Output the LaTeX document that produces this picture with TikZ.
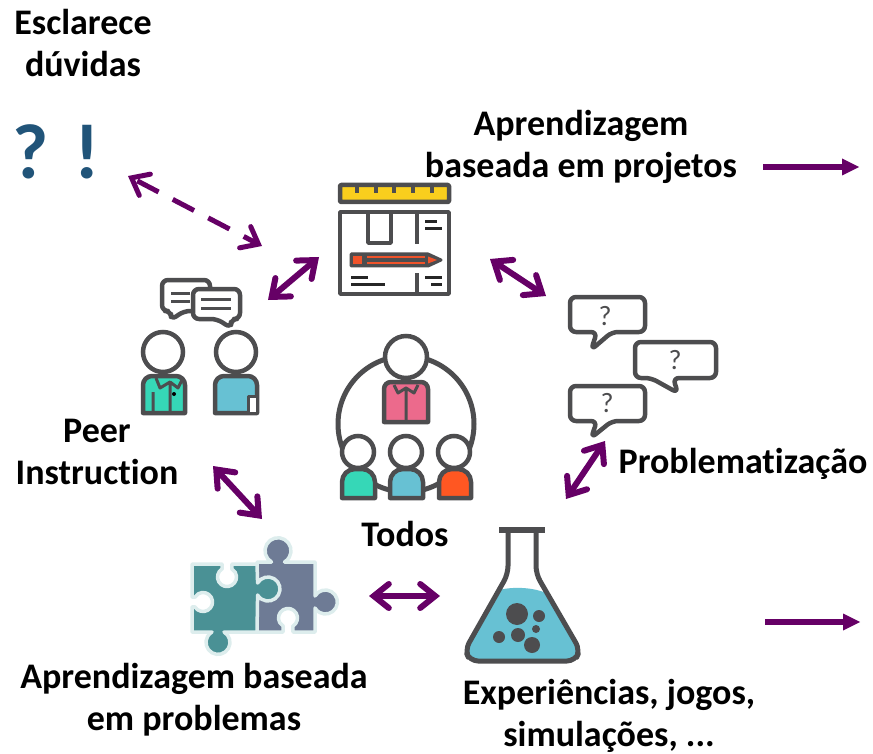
\documentclass[tikz,border=0pt]{standalone}
\usepackage{fontspec}
\setmainfont[Ligatures=NoCommon]{Carlito}
\usepackage{xcolor}
\usetikzlibrary{arrows.meta}
\definecolor{inkgray}{HTML}{4D4D4F}
\definecolor{arrowpurple}{HTML}{660066}
\definecolor{markblue}{HTML}{215479}
\definecolor{rulerY}{HTML}{F9CE1D}
\definecolor{penO}{HTML}{F0532A}
\definecolor{shirtG}{HTML}{36D7B7}
\definecolor{shirtB}{HTML}{67C1D3}
\definecolor{shirtP}{HTML}{EC6A8C}
\definecolor{shirtO}{HTML}{FF5722}
\definecolor{puzzleT}{HTML}{4A9195}
\definecolor{puzzleS}{HTML}{6E7B95}
\definecolor{puzzleH}{HTML}{DDEDED}
\tikzset{
    caption/.style={font=\fontsize{36}{42}\selectfont\bfseries, align=center, inner sep=0pt, text=black},
    link/.style={draw=arrowpurple, line width=6pt, -{Triangle[length=17pt, width=17pt, line width=0pt]}},
    twoway/.style={draw=arrowpurple, line width=6pt, {Straight Barb[length=15pt, width=24pt, line cap=round]}-{Straight Barb[length=15pt, width=24pt, line cap=round]}},
    ink/.style={draw=inkgray, line width=4.5pt, line join=round},
    head/.style={circle, draw=inkgray, line width=4.5pt, fill=white, inner sep=0pt},
    bubble/.style={ink, fill=white, rounded corners=6pt},
    qmark/.style={font=\fontsize{28}{28}\selectfont, text=inkgray, inner sep=0pt},
    piece/.style={draw=puzzleH, line width=3.5pt, line join=round}
}
\begin{document}
\begin{tikzpicture}[x=1pt, y=-1pt]
    \useasboundingbox (0, 0) rectangle (873, 754);
    % captions
    \node[caption] (doubts) at (83, 43) {Esclarece\\dúvidas};
    \node[caption] (projects) at (581, 146.5) {Aprendizagem\\baseada em projetos};
    \node[caption] (peer) at (97, 452) {Peer\\Instruction};
    \node[caption] (everyone) at (405, 534) {Todos};
    \node[caption] (problemat) at (743, 464) {Problematização};
    \node[caption] (problems) at (194, 700) {Aprendizagem baseada\\em problemas};
    \node[caption] (games) at (609, 716) {Experiências, jogos,\\simulações, ...};
    \node[font=\fontsize{78}{78}\selectfont\bfseries, text=markblue, inner sep=0pt] (marks) at (56, 152) {?\,\,!};

    % ruler and plan
    \draw[ink, fill=rulerY, rounded corners=1pt] (340, 185) rectangle (449, 202);
    \foreach \x in {357, 376, 394, 413, 432}
        \draw[ink, line width=3.5pt] (\x, 185) -- (\x, 193);
    \draw[ink, line width=3.5pt, fill=white] (340, 212) rectangle (449, 294);
    \draw[ink, line width=3.5pt] (368, 212) -- (368, 243) -- (391, 243) -- (391, 212);
    \draw[ink, line width=3.5pt] (417, 212) -- (417, 244);
    \draw[ink, line width=3.5pt] (417, 273) -- (417, 294);
    \draw[black!85, line width=3pt]
        (425, 222) -- (437, 222)
        (425, 229) -- (442, 229)
        (351, 277) -- (368, 277)
        (351, 284) -- (385, 284)
        (425, 277) -- (442, 277)
        (431, 284) -- (442, 284);
    \draw[ink, line width=3pt, fill=inkgray] (351, 254) -- (428, 254) -- (441, 260) -- (428, 266) -- (351, 266) -- cycle;
    \fill[penO] (353, 256) rectangle (362, 264);
    \fill[penO] (428, 256.5) -- (437, 260) -- (428, 263.5) -- cycle;
    \draw[penO, line width=2pt] (367, 257) -- (425, 257) (367, 263) -- (425, 263);

    % two people talking
    \draw[bubble] (162, 280) -- (210, 280) -- (210, 311) -- (184, 311) -- (171, 320) -- (171, 311) -- (162, 311) -- cycle;
    \draw[inkgray, line width=3pt] (171, 293) -- (190, 293) (171, 301) -- (190, 301);
    \draw[bubble] (193, 289) -- (240, 289) -- (240, 319) -- (231, 319) -- (231, 328) -- (217, 319) -- (193, 319) -- cycle;
    \draw[inkgray, line width=3pt] (201, 299) -- (231, 299) (201, 308) -- (231, 308);
    \draw[ink, fill=shirtG] (143, 413) [rounded corners=9pt] -- (143, 376) -- (185, 376) [sharp corners] -- (185, 413) -- cycle;
    \draw[ink, line width=3pt] (153, 413) -- (153, 392) (170, 413) -- (170, 384) (156, 378) -- (160, 388) -- (170, 382) -- (178, 388) -- (183, 378);
    \fill[black] (174, 394) circle (2pt);
    \draw[ink, fill=shirtB] (215, 413) [rounded corners=9pt] -- (215, 376) -- (257, 376) [sharp corners] -- (257, 413) -- cycle;
    \draw[ink, fill=white, line width=3pt] (248, 413) -- (248, 396) -- (257, 396) -- (257, 413) -- cycle;
    \node[head, minimum size=40pt] (headL) at (163, 352) {};
    \node[head, minimum size=40pt] (headR) at (236, 352) {};

    % group
    \draw[ink, line width=5pt] (406, 424) circle (68);
    \draw[ink, fill=shirtP] (384, 422) [rounded corners=7pt] -- (384, 382) -- (428, 382) [sharp corners] -- (428, 422) -- cycle;
    \draw[ink, line width=3pt] (406, 422) -- (406, 389) (394, 385) -- (398, 393) -- (406, 388) -- (414, 393) -- (418, 385);
    \node[head, minimum size=42pt] (headT) at (406, 357) {};
    \draw[ink, fill=shirtG] (342, 498) [rounded corners=13pt] -- (342, 469) -- (375, 469) [sharp corners] -- (375, 498) -- cycle;
    \draw[ink, fill=shirtB] (390, 498) [rounded corners=13pt] -- (390, 469) -- (423, 469) [sharp corners] -- (423, 498) -- cycle;
    \draw[ink, fill=shirtO] (439, 498) [rounded corners=13pt] -- (439, 469) -- (471, 469) [sharp corners] -- (471, 498) -- cycle;
    \node[head, minimum size=32pt] (headA) at (358, 452) {};
    \node[head, minimum size=32pt] (headB) at (406, 452) {};
    \node[head, minimum size=32pt] (headC) at (454, 452) {};

    % question bubbles
    \draw[bubble] (570, 297) -- (645, 297) -- (645, 332) -- (612, 332) -- (591, 350) -- (597, 332) -- (570, 332) -- cycle;
    \draw[bubble] (635, 342) -- (716, 342) -- (716, 378) -- (673, 378) -- (678, 393) -- (651, 378) -- (635, 378) -- cycle;
    \draw[bubble] (570, 386) -- (645, 386) -- (645, 421) -- (612, 421) -- (591, 438) -- (597, 421) -- (570, 421) -- cycle;
    \node[qmark] (askA) at (605, 316) {?};
    \node[qmark] (askB) at (675, 360) {?};
    \node[qmark] (askC) at (607, 403) {?};

    % puzzle
    \draw[piece, fill=puzzleS] (257, 562) -- (271.5, 562) arc[start angle=120, end angle=420, radius=13] -- (284.5, 562) -- (315, 562) -- (315, 596)
        arc[start angle=-150, end angle=150, radius=12] -- (315, 632) -- (293, 632) -- (292.75, 626.2)
        arc[start angle=60, end angle=-240, radius=9.5] -- (283, 632) -- (257, 632) -- cycle;
    \draw[piece, fill=puzzleT] (192, 564) -- (222, 564) -- (222.25, 568.8)
        arc[start angle=-120, end angle=-420, radius=9.5] -- (232, 564) -- (257, 564) -- (257.6, 583)
        arc[start angle=-150, end angle=150, radius=12] -- (257, 632) -- (224, 632)
        arc[start angle=-60, end angle=240, radius=12] -- (192, 632) -- (192, 607) -- (194.8, 606.75)
        arc[start angle=150, end angle=-150, radius=9.5] -- (192, 597) -- cycle;

    % flask
    \fill[shirtB] (499, 590) .. controls (515, 586) and (535, 588) .. (546, 593) -- (578, 650) -- (574, 660) -- (471, 660) -- (467, 650) -- cycle;
    \draw[ink, line width=5pt, rounded corners=8pt] (508, 530) -- (508, 574) -- (465, 650) -- (470, 661) -- (575, 661) -- (580, 650) -- (536, 574) -- (536, 530);
    \draw[ink, line width=6pt] (499, 530) -- (545, 530);
    \fill[inkgray] (517, 614) circle (11) (539, 616) circle (6) (536, 629) circle (4) (518, 635) circle (7) (499, 637) circle (6) (532, 645) circle (8);

    % arrow ends
    \coordinate (marksEnd) at (128, 176);
    \coordinate (planNW) at (262, 246);
    \coordinate (planW) at (319, 257);
    \coordinate (peerN) at (268, 300);
    \coordinate (planE) at (490, 259);
    \coordinate (askN) at (546, 296);
    \coordinate (askS) at (605, 441);
    \coordinate (flaskN) at (566, 499);
    \coordinate (peerS) at (213, 466);
    \coordinate (puzzleN) at (262, 519);
    \coordinate (puzzleE) at (369, 596);
    \coordinate (flaskW) at (440, 596);
    \coordinate (projectsA) at (763, 167);
    \coordinate (projectsB) at (859, 167);
    \coordinate (gamesA) at (765, 622);
    \coordinate (gamesB) at (860, 622);
    \draw
        (marksEnd) edge[twoway, line width=5pt, dash pattern=on 24pt off 16pt, dash phase=36pt] (planNW)
        (planW) edge[twoway] (peerN)
        (planE) edge[twoway] (askN)
        (askS) edge[twoway] (flaskN)
        (peerS) edge[twoway] (puzzleN)
        (puzzleE) edge[twoway] (flaskW)
        (projectsA) edge[link] (projectsB)
        (gamesA) edge[link] (gamesB);
\end{tikzpicture}
\end{document}
